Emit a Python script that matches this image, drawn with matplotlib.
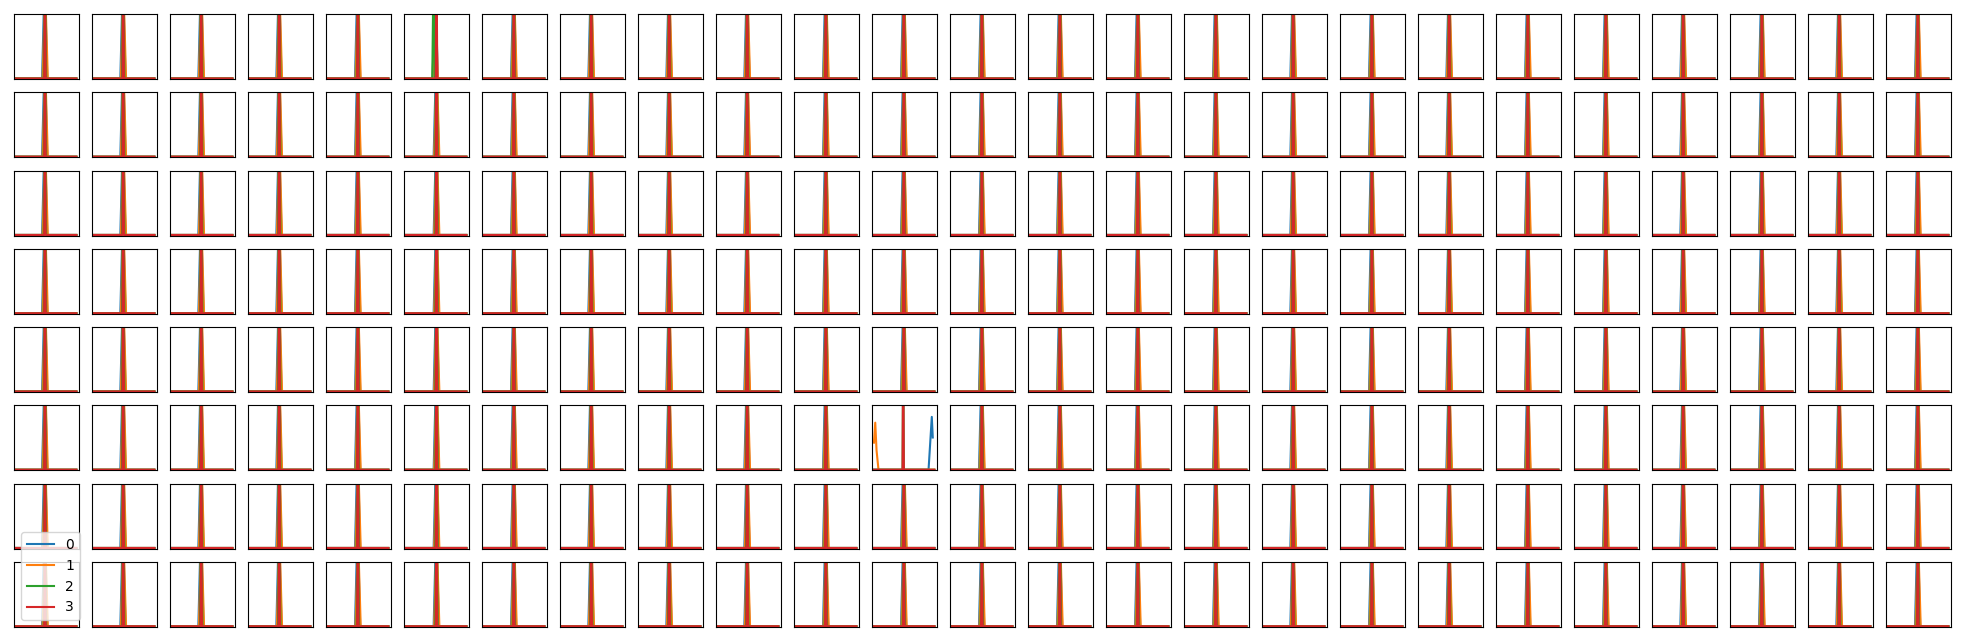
import matplotlib
matplotlib.use("Agg")
import matplotlib.pyplot as plt

n_rows = 8
n_cols = 25
series = ["0", "1", "2", "3"]
colors = ["tab:blue", "tab:orange", "tab:green", "tab:red"]

# peak position of each column (fraction of the x range)
col_center = [0.476, 0.48, 0.48, 0.48, 0.49, 0.50, 0.49, 0.48, 0.48, 0.48, 0.49, 0.49, 0.49,
              0.49, 0.49, 0.49, 0.48, 0.49, 0.48, 0.49, 0.49, 0.48, 0.49, 0.48, 0.49]
# per series shift from the column peak and half width of the spike
series_shift = [-0.004, 0.004, 0.0, 0.0]
series_halfwidth = [0.04, 0.04, 0.02, 0.012]
series_peak = [1.6, 1.4, 1.8, 2.0]

# cells where one series sits elsewhere: (row, col, series) -> shift
odd_shift = {(0, 5, 2): -0.045, (0, 5, 1): -0.02, (0, 5, 0): -0.02}

# the one cell with a different x range
odd_cell = (5, 11)
odd_x = {
    "0": [0.015, 0.87, 0.92, 0.935],
    "1": [0.03, 0.05, 0.07, 0.10, 0.96],
    "2": [0.015, 0.47, 0.48, 0.49, 0.96],
    "3": [0.015, 0.47, 0.48, 0.49, 0.96],
}
odd_y = {
    "0": [0.0, 0.0, 0.82, 0.5],
    "1": [0.42, 0.73, 0.3, 0.0, 0.0],
    "2": [0.0, 0.0, 2.0, 0.0, 0.0],
    "3": [0.0, 0.0, 2.0, 0.0, 0.0],
}

x_left, x_right = 0.015, 0.96

fig, axes = plt.subplots(n_rows, n_cols, figsize=(19.64, 6.43), dpi=100)
fig.subplots_adjust(left=14 / 1964, right=1951 / 1964, top=1 - 14 / 643,
                    bottom=16 / 643, wspace=0.2, hspace=0.2)

for r in range(n_rows):
    for c in range(n_cols):
        ax = axes[r, c]
        for k, name in enumerate(series):
            if (r, c) == odd_cell:
                xs, ys = odd_x[name], odd_y[name]
            else:
                m = col_center[c] + odd_shift.get((r, c, k), series_shift[k])
                w = series_halfwidth[k]
                xs = [x_left, m - w, m, m + w, x_right]
                ys = [0, 0, series_peak[k], 0, 0]
            ax.plot(xs, ys, color=colors[k], lw=1.5, label=name)
        ax.set_xlim(0, 1)
        ax.set_ylim(-0.012, 1)
        ax.set_xticks([])
        ax.set_yticks([])

axes[7, 0].legend(loc="lower left")

plt.savefig("out.png", dpi=100)
